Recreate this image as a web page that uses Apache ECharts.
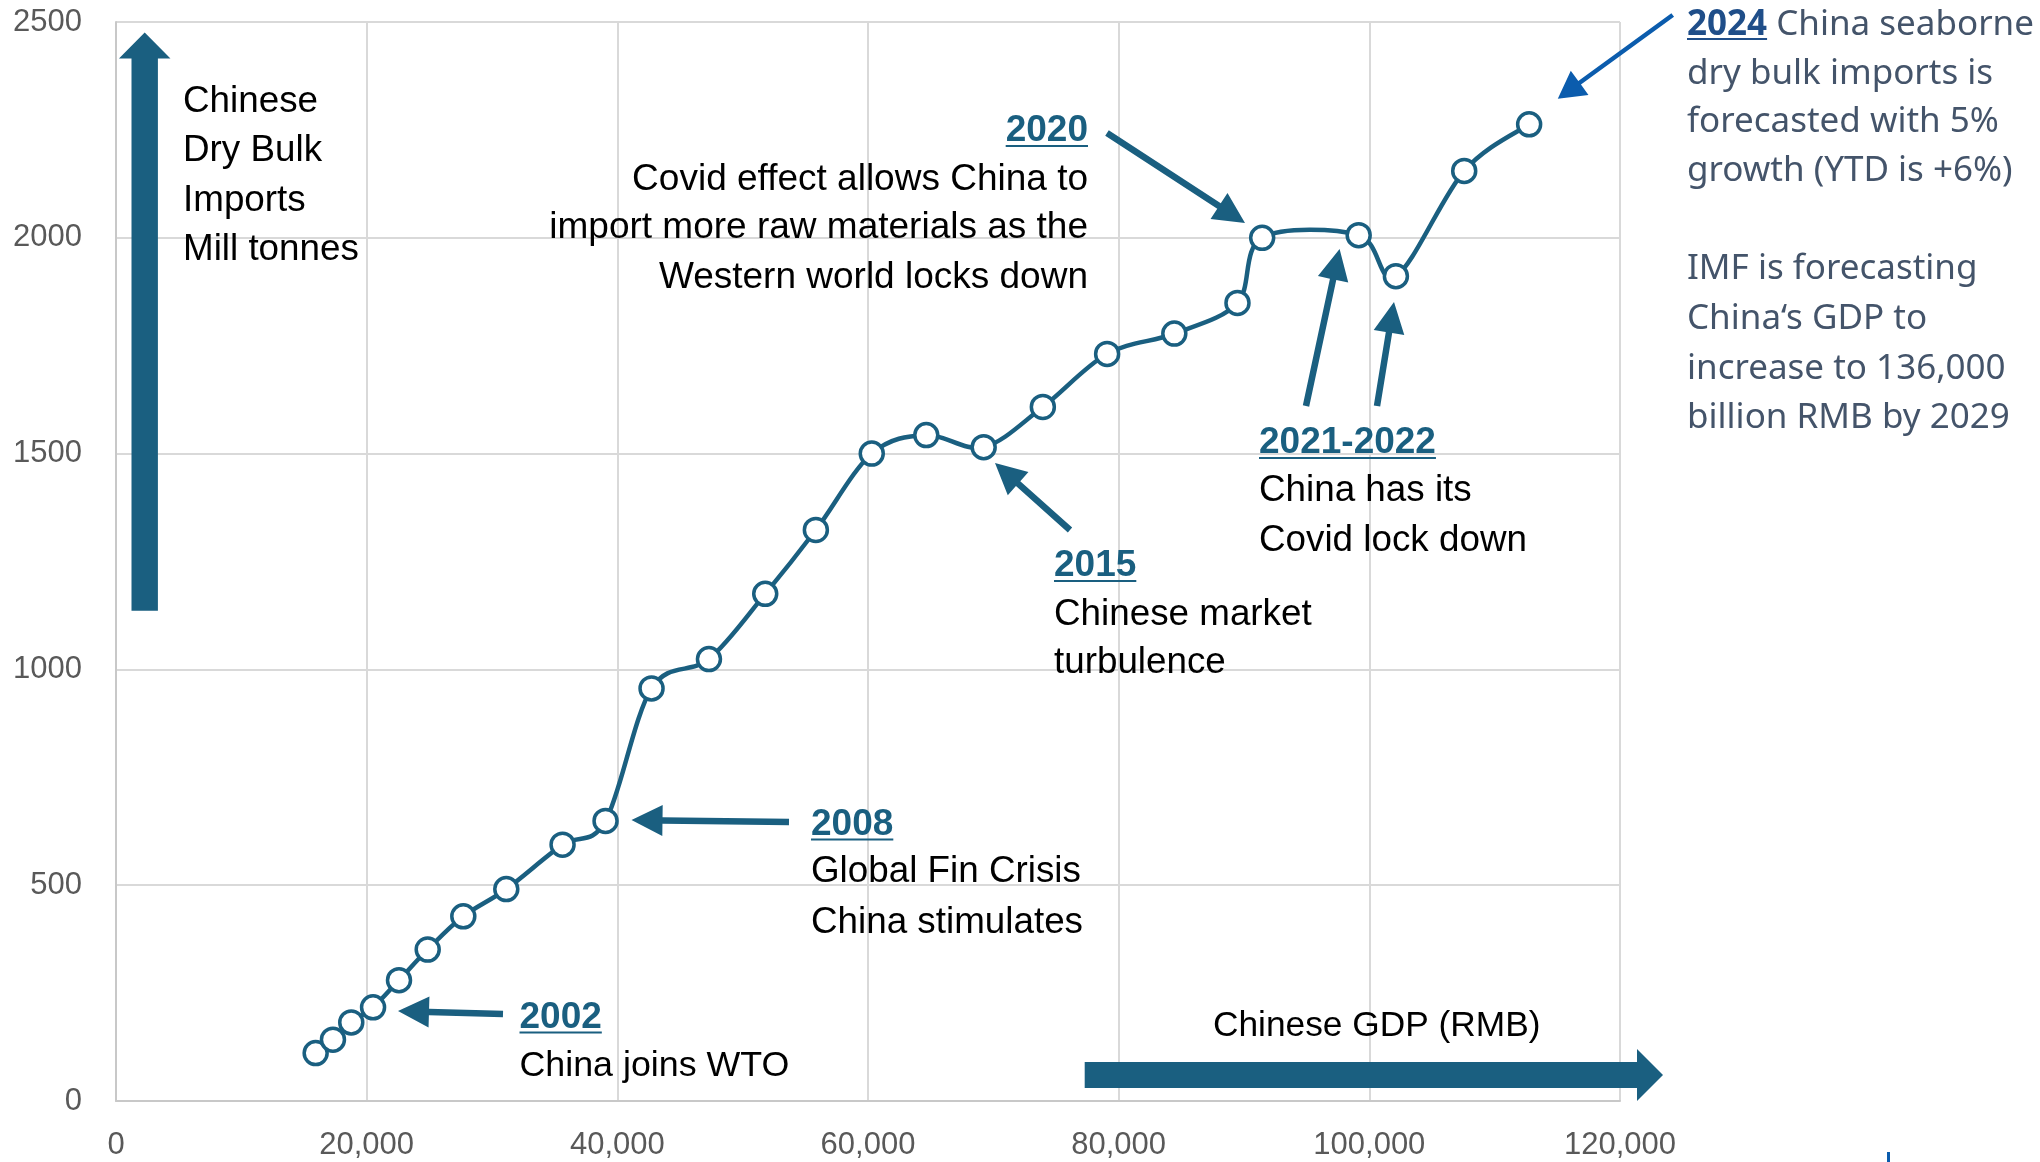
<!DOCTYPE html>
<html>
<head>
<meta charset="utf-8">
<title>Chinese dry bulk imports vs GDP</title>
<script src="https://cdn.jsdelivr.net/npm/echarts@6/dist/echarts.min.js"></script>
<style>
html, body { margin: 0; padding: 0; background: #fff; }
#chart { width: 2040px; height: 1162px; }
</style>
</head>
<body>
<div id="chart"></div>
<script>
// one point per year, 1999 - 2024
const years = [1999, 2000, 2001, 2002, 2003, 2004, 2005, 2006, 2007, 2008, 2009, 2010, 2011,
  2012, 2013, 2014, 2015, 2016, 2017, 2018, 2019, 2020, 2021, 2022, 2023, 2024]
// Chinese GDP, billion RMB (x)
const gdp = [15930, 17310, 18770, 20510, 22580, 24870, 27710, 31140, 35630, 39060, 42730, 47310, 51800,
  55840, 60300, 64650, 69230, 73950, 79080, 84440, 89480, 91450, 99150, 102120, 107570, 112750]
// Chinese dry bulk imports, mill tonnes (y)
const imports = [111, 142, 182, 217, 280, 351, 428, 491, 594, 649, 956, 1024, 1175,
  1323, 1500, 1543, 1515, 1608, 1731, 1778, 1849, 2000, 2006, 1911, 2155, 2263]
const xTicks = [0, 20000, 40000, 60000, 80000, 100000, 120000]
const yTicks = [0, 500, 1000, 1500, 2000, 2500]

const TEAL = '#1a5f80'
const NAVY = '#1f4e89'
const SLATE = '#44546a'
const NARROW = '"Liberation Sans", Arial, sans-serif'
const PLEX = '"Noto Sans", "Open Sans", sans-serif'

const measureCtx = document.createElement('canvas').getContext('2d')
function textWidth (str, font) {
  measureCtx.font = font
  return measureCtx.measureText(str).width
}

// text placed by its baseline
function txt (str, x, baseline, o = {}) {
  const size = o.size || 36.8
  const family = o.family || NARROW
  const font = `${o.bold ? 'bold ' : ''}${size}px ${family}`
  // canvas 'middle' sits this far above the baseline (+ small correction seen on render)
  const mid = family === PLEX ? 0.388 * size - 5 : 0.3465 * size - 3
  return {
    type: 'text', x, y: baseline - mid, z: 20, silent: true,
    style: { text: str, font, fill: o.color || '#000', align: o.align || 'left', verticalAlign: 'middle' }
  }
}

// bold underlined year label
function yearLabel (str, x, baseline, o = {}) {
  const size = o.size || 37
  const family = o.family || NARROW
  const color = o.color || TEAL
  const w = textWidth(str, `bold ${size}px ${family}`)
  const left = o.align === 'right' ? x - w : x
  return [
    txt(str, x, baseline, { size, family, color, bold: true, align: o.align }),
    { type: 'rect', z: 20, silent: true, shape: { x: left, y: baseline + 4, width: w, height: 2 }, style: { fill: color } }
  ]
}

function arrow (x1, y1, x2, y2, shaft, headLen, headW, color) {
  const len = Math.hypot(x2 - x1, y2 - y1)
  const ux = (x2 - x1) / len
  const uy = (y2 - y1) / len
  const nx = -uy
  const ny = ux
  const bx = x2 - ux * headLen
  const by = y2 - uy * headLen
  const s = shaft / 2
  const h = headW / 2
  return {
    type: 'polygon', z: 15, silent: true,
    shape: {
      points: [
        [x1 + nx * s, y1 + ny * s],
        [bx + nx * s, by + ny * s],
        [bx + nx * h, by + ny * h],
        [x2, y2],
        [bx - nx * h, by - ny * h],
        [bx - nx * s, by - ny * s],
        [x1 - nx * s, y1 - ny * s]
      ]
    },
    style: { fill: color || TEAL }
  }
}

// Excel style smoothed line: one catmull-rom bezier per segment
function renderSegment (params, api) {
  const i = params.dataIndex
  const n = gdp.length
  if (i >= n - 1) return null
  const pt = k => api.coord([gdp[Math.max(0, Math.min(n - 1, k))], imports[Math.max(0, Math.min(n - 1, k))]])
  const p0 = pt(i - 1)
  const p1 = pt(i)
  const p2 = pt(i + 1)
  const p3 = pt(i + 2)
  return {
    type: 'bezierCurve',
    shape: {
      x1: p1[0],
      y1: p1[1],
      x2: p2[0],
      y2: p2[1],
      cpx1: p1[0] + (p2[0] - p0[0]) / 6,
      cpy1: p1[1] + (p2[1] - p0[1]) / 6,
      cpx2: p2[0] - (p3[0] - p1[0]) / 6,
      cpy2: p2[1] - (p3[1] - p1[1]) / 6
    },
    style: { stroke: TEAL, lineWidth: 4.5, fill: null, lineCap: 'round' }
  }
}

const side = { size: 35, family: PLEX, color: SLATE }

const annotations = [
  // axis arrows
  arrow(144.7, 610.7, 144.7, 32.5, 26.4, 26, 51.5),
  arrow(1084.7, 1075, 1663, 1075, 26, 26, 52),
  txt('Chinese', 183, 112),
  txt('Dry Bulk', 183, 161),
  txt('Imports', 183, 210.5),
  txt('Mill tonnes', 183, 259.5),
  txt('Chinese GDP (RMB)', 1213, 1035, { size: 35.3 }),

  // 2002
  arrow(503, 1014, 398, 1011, 6.5, 31, 31),
  ...yearLabel('2002', 519.5, 1027.5),
  txt('China joins WTO', 519.5, 1076, { size: 35.8 }),

  // 2008
  arrow(789, 822, 631.5, 820, 6.5, 31, 31),
  ...yearLabel('2008', 811, 834.5),
  txt('Global Fin Crisis', 811, 882),
  txt('China stimulates', 811, 932.5),

  // 2015
  arrow(1070, 530, 995, 463, 6.5, 31, 31),
  ...yearLabel('2015', 1054, 576),
  txt('Chinese market', 1054, 625),
  txt('turbulence', 1054, 673),

  // 2020
  arrow(1107, 133, 1245, 223, 6.5, 31, 31),
  ...yearLabel('2020', 1088, 141, { align: 'right' }),
  txt('Covid effect allows China to', 1088, 189.5, { align: 'right', size: 37 }),
  txt('import more raw materials as the', 1088, 238, { align: 'right', size: 37 }),
  txt('Western world locks down', 1088, 288, { align: 'right', size: 37 }),

  // 2021-2022
  arrow(1306, 406, 1339.6, 249, 6.5, 31, 31),
  arrow(1377, 406, 1394, 302, 6.5, 31, 31),
  ...yearLabel('2021-2022', 1259, 453),
  txt('China has its', 1259, 501),
  txt('Covid lock down', 1259, 551),

  // 2024 forecast notes
  arrow(1672.7, 15, 1557.8, 98.7, 4.5, 27, 30, '#0b5cad'),
  ...yearLabel('2024', 1687, 34, { size: 35, family: PLEX, color: NAVY }),
  txt(' China seaborne', 1687 + textWidth('2024', `bold 35px ${PLEX}`), 34, side),
  txt('dry bulk imports is', 1687, 83, side),
  txt('forecasted with 5%', 1687, 131, side),
  txt('growth (YTD is +6%)', 1687, 180, side),
  txt('IMF is forecasting', 1687, 278, side),
  txt('China\u2018s GDP to', 1687, 328, side),
  txt('increase to 136,000', 1687, 378, side),
  txt('billion RMB by 2029', 1687, 427, side),

  // stray mark at the bottom edge
  { type: 'rect', silent: true, shape: { x: 1887, y: 1152, width: 3, height: 10 }, style: { fill: '#0b5cad' } }
]

const points = gdp.map((g, i) => [g, imports[i], years[i]])

const chart = echarts.init(document.getElementById('chart'))
chart.setOption({
  animation: false,
  backgroundColor: '#fff',
  grid: { left: 116, right: 420, top: 22, bottom: 61, containLabel: false },
  xAxis: {
    type: 'value',
    min: xTicks[0],
    max: xTicks[xTicks.length - 1],
    interval: xTicks[1] - xTicks[0],
    axisLine: { show: true, lineStyle: { color: '#c8c8c8', width: 2 } },
    axisTick: { show: false },
    splitLine: { lineStyle: { color: '#d9d9d9', width: 2 } },
    axisLabel: {
      color: '#595959',
      fontSize: 31,
      fontFamily: NARROW,
      margin: 29,
      showMinLabel: true,
      showMaxLabel: true,
      formatter: v => v.toLocaleString('en-US')
    }
  },
  yAxis: {
    type: 'value',
    min: yTicks[0],
    max: yTicks[yTicks.length - 1],
    interval: yTicks[1] - yTicks[0],
    axisLine: { show: true, lineStyle: { color: '#c8c8c8', width: 2 } },
    axisTick: { show: false },
    splitLine: { lineStyle: { color: '#d9d9d9', width: 2 } },
    axisLabel: { color: '#595959', fontSize: 31, fontFamily: NARROW, margin: 34, formatter: v => String(v) }
  },
  series: [{
    name: 'Dry bulk imports line',
    type: 'custom',
    renderItem: renderSegment,
    encode: { x: 0, y: 1 },
    data: points,
    z: 4
  }, {
    name: 'Dry bulk imports',
    type: 'scatter',
    data: points,
    symbol: 'circle',
    symbolSize: 23,
    itemStyle: { color: '#fff', borderColor: TEAL, borderWidth: 3.5, opacity: 1 },
    z: 6
  }],
  graphic: annotations
})
</script>
</body>
</html>
